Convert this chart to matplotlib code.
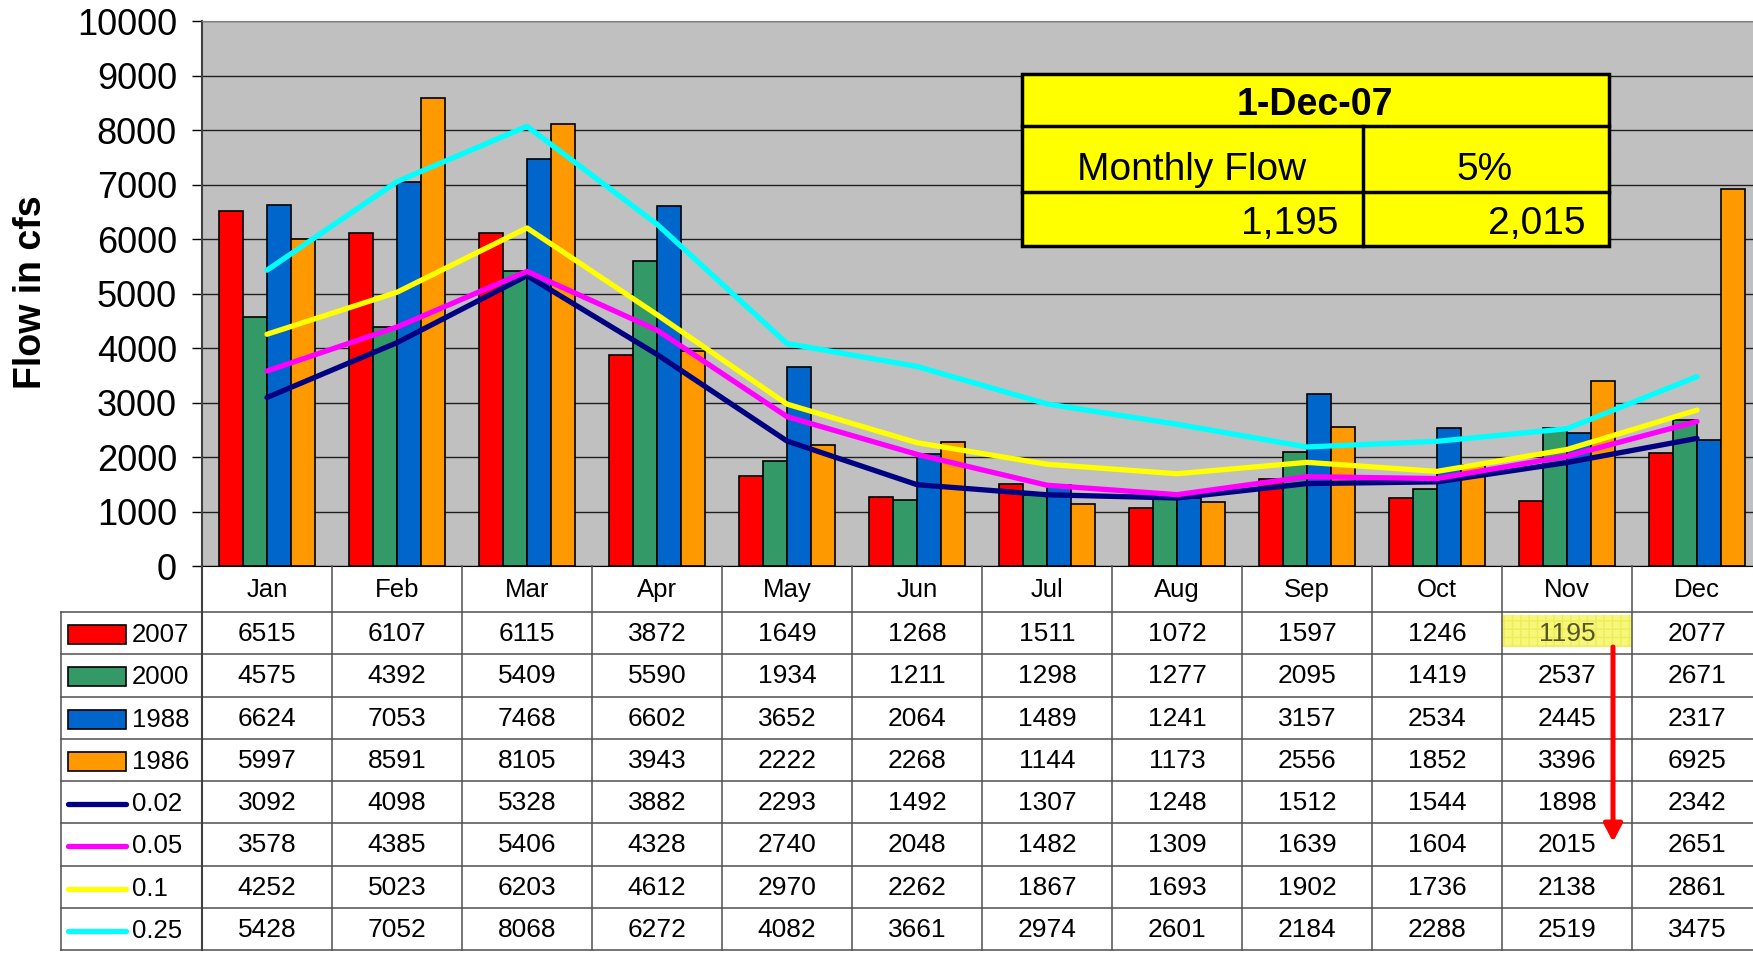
import numpy as np
import matplotlib
matplotlib.use('Agg')
import matplotlib.pyplot as plt
from matplotlib.patches import Rectangle
from matplotlib.transforms import blended_transform_factory

plt.rcParams['font.family'] = ['Liberation Sans', 'DejaVu Sans']

months = ['Jan', 'Feb', 'Mar', 'Apr', 'May', 'Jun', 'Jul', 'Aug', 'Sep', 'Oct', 'Nov', 'Dec']

bar_labels = ['2007', '2000', '1988', '1986']
flow_2007 = [6515, 6107, 6115, 3872, 1649, 1268, 1511, 1072, 1597, 1246, 1195, 2077]
flow_2000 = [4575, 4392, 5409, 5590, 1934, 1211, 1298, 1277, 2095, 1419, 2537, 2671]
flow_1988 = [6624, 7053, 7468, 6602, 3652, 2064, 1489, 1241, 3157, 2534, 2445, 2317]
flow_1986 = [5997, 8591, 8105, 3943, 2222, 2268, 1144, 1173, 2556, 1852, 3396, 6925]

line_labels = ['0.02', '0.05', '0.1', '0.25']
exc_002 = [3092, 4098, 5328, 3882, 2293, 1492, 1307, 1248, 1512, 1544, 1898, 2342]
exc_005 = [3578, 4385, 5406, 4328, 2740, 2048, 1482, 1309, 1639, 1604, 2015, 2651]
exc_010 = [4252, 5023, 6203, 4612, 2970, 2262, 1867, 1693, 1902, 1736, 2138, 2861]
exc_025 = [5428, 7052, 8068, 6272, 4082, 3661, 2974, 2601, 2184, 2288, 2519, 3475]

box_date = '1-Dec-07'
box_flow = 1195
box_pct = 2015

bar_colors = ['#FF0000', '#339966', '#0066CC', '#FF9900']
line_colors = ['#000080', '#FF00FF', '#FFFF00', '#00FFFF']

W, H = 1753, 955
fig = plt.figure(figsize=(W / 100, H / 100), dpi=100)

# main chart (right part runs a bit past the image edge, like the original)
ax = fig.add_axes([202 / W, 1 - 566 / H, 1560 / W, 545 / H])
ax.set_facecolor('#C0C0C0')

x = np.arange(len(months))
bw = 0.183
bars = [flow_2007, flow_2000, flow_1988, flow_1986]
for k, (vals, col) in enumerate(zip(bars, bar_colors)):
    ax.bar(x + (k - 1.5) * bw, vals, bw, color=col, edgecolor='black', linewidth=1.2, zorder=2)

lines = [exc_002, exc_005, exc_010, exc_025]
for vals, col in zip(lines, line_colors):
    ax.plot(x, vals, color=col, lw=3.8, solid_capstyle='round', zorder=3)

ax.set_xlim(-0.5, 11.5)
ax.set_ylim(0, 10000)
ax.set_yticks(np.arange(0, 10001, 1000))
ax.set_xticks([])
ax.yaxis.grid(True, color='#202020', lw=1)
ax.set_axisbelow(True)
ax.tick_params(axis='y', direction='out', length=7, width=1, pad=11, labelsize=26)
ax.spines['top'].set_color('#808080')
ax.spines['right'].set_visible(False)
ax.spines['left'].set_color('#404040')
ax.spines['left'].set_linewidth(1.5)
ax.spines['bottom'].set_color('black')

fig.text(31 / W, 1 - 292 / H, 'Flow in cfs', rotation=90, fontsize=27,
         fontweight='bold', ha='center', va='center')

# overlay in pixel coordinates for the data table and the note box
ov = fig.add_axes([0, 0, 1, 1])
ov.set_xlim(0, W)
ov.set_ylim(H, 0)
ov.axis('off')
tr = blended_transform_factory(ax.transData, ov.transData)

top, head_bot, rowh = 566, 612, 42.25
n_rows = len(bar_labels) + len(line_labels)
grid_col = '#505050'

for k in range(n_rows + 1):
    ov.plot([61, W], [head_bot + k * rowh] * 2, color=grid_col, lw=1.1)
ov.plot([61, 61], [head_bot, head_bot + n_rows * rowh], color=grid_col, lw=1.1)
ov.plot([202, 202], [top, head_bot + n_rows * rowh], color='#404040', lw=1.5)
for b in np.arange(0.5, 12, 1.0):
    ov.plot([b, b], [top, head_bot + n_rows * rowh], color=grid_col, lw=1.1, transform=tr)

for i, m in enumerate(months):
    ov.text(i, (top + head_bot) / 2 + 1, m, transform=tr, ha='center', va='center', fontsize=18.5)

all_rows = bars + lines
all_labels = bar_labels + line_labels
all_colors = bar_colors + line_colors
for r, (vals, lab, col) in enumerate(zip(all_rows, all_labels, all_colors)):
    yc = head_bot + (r + 0.5) * rowh
    if r < len(bar_labels):
        ov.add_patch(Rectangle((68, yc - 8), 58, 19, facecolor=col, edgecolor='black', lw=1.2))
    else:
        ov.plot([68, 126], [yc + 2, yc + 2], color=col, lw=3.8, solid_capstyle='round')
    ov.text(132, yc + 2, lab, ha='left', va='center', fontsize=18.5)
    for i, v in enumerate(vals):
        c = 'black'
        if r == 0 and i == 10:
            ov.add_patch(Rectangle((9.5, yc - 18), 1.0, 32, transform=tr, facecolor='#F7F77A',
                                   edgecolor='#EDED5A', hatch='++', lw=0))
            c = '#55552a'
        ov.text(i, yc + 1, str(v), transform=tr, ha='center', va='center', fontsize=19, color=c)

# red arrow from the Nov 2007 cell down to the 5% value
ov.annotate('', xy=(1613, 842), xytext=(1613, 647),
            arrowprops=dict(arrowstyle='-|>,head_length=0.42,head_width=0.22', mutation_scale=25,
                            color='red', lw=3.6, shrinkA=0, shrinkB=0))

# yellow note box
bx0, bx1, by0, by1 = 1022, 1609, 74, 246
ov.add_patch(Rectangle((bx0, by0), bx1 - bx0, by1 - by0, facecolor='#FFFF00',
                       edgecolor='black', lw=2.5, zorder=5))
ov.plot([bx0, bx1], [126, 126], color='black', lw=2.5, zorder=6)
ov.plot([bx0, bx1], [192, 192], color='black', lw=2.5, zorder=6)
ov.plot([1363, 1363], [126, by1], color='black', lw=2.5, zorder=6)
ov.text(1315, 115, box_date, ha='center', va='baseline', fontsize=27,
        fontweight='bold', zorder=7)
ov.text(1192, 180, 'Monthly Flow', ha='center', va='baseline', fontsize=28, zorder=7)
ov.text(1485, 180, '5%', ha='center', va='baseline', fontsize=28, zorder=7)
ov.text(1338, 234, f'{box_flow:,}', ha='right', va='baseline', fontsize=28, zorder=7)
ov.text(1586, 234, f'{box_pct:,}', ha='right', va='baseline', fontsize=28, zorder=7)

fig.savefig('out.png', dpi=100)
